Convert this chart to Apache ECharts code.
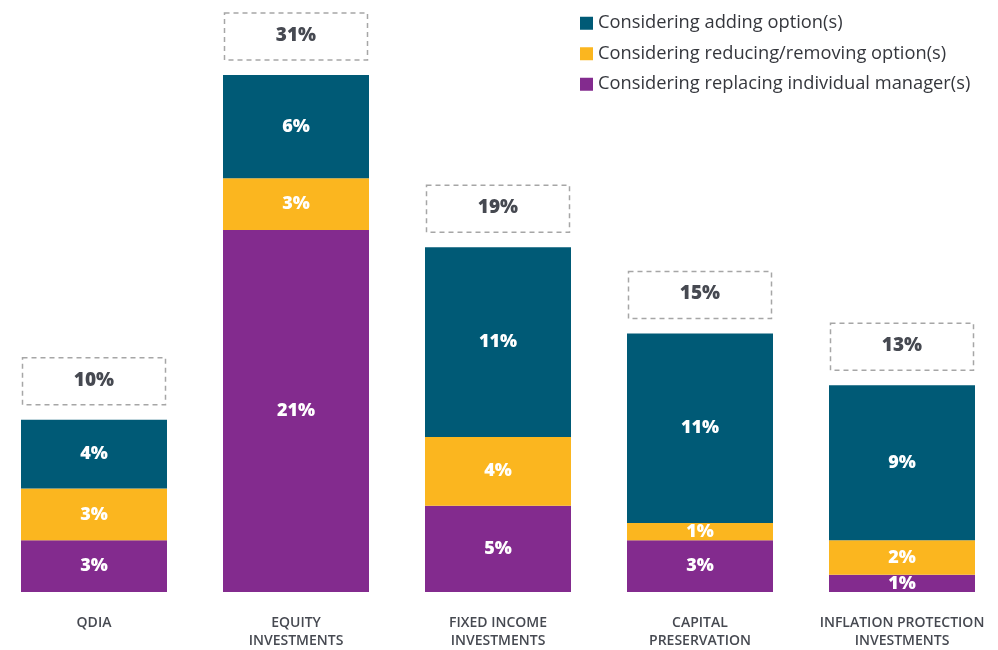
<!DOCTYPE html>
<html>
<head>
<meta charset="utf-8">
<script src="https://cdn.jsdelivr.net/npm/echarts@6/dist/echarts.min.js"></script>
<style>
  html, body { margin: 0; padding: 0; background: #ffffff; }
  #chart { width: 998px; height: 650px; }
</style>
</head>
<body>
<div id="chart"></div>
<script>
// Plan menu changes under consideration, by asset category (percent of plans)
const categories = ['QDIA', 'EQUITY\nINVESTMENTS', 'FIXED INCOME\nINVESTMENTS', 'CAPITAL\nPRESERVATION', 'INFLATION PROTECTION\nINVESTMENTS'];
const replacingManagers = [3, 21, 5, 3, 1];
const reducingRemoving = [3, 3, 4, 1, 2];
const addingOptions = [4, 6, 11, 11, 9];
const totalLabels = ['10%', '31%', '19%', '15%', '13%'];

const seriesNames = [
  'Considering adding option(s)',
  'Considering reducing/removing option(s)',
  'Considering replacing individual manager(s)'
];
const colors = {
  adding: '#005a76',
  reducing: '#fbb61f',
  replacing: '#832b8e'
};

const FONT = '"Open Sans", "Noto Sans", sans-serif';
const textDark = '#464951';

const segmentLabel = {
  show: true,
  position: 'inside',
  color: '#ffffff',
  fontFamily: FONT,
  fontWeight: 800,
  fontSize: 18,
  formatter: p => p.value + '%'
};

const chart = echarts.init(document.getElementById('chart'), null, { renderer: 'canvas' });

chart.setOption({
  animation: false,
  backgroundColor: '#ffffff',
  grid: { left: 94, right: 96, top: 6, bottom: 56, containLabel: false },
  legend: {
    orient: 'vertical',
    left: 575,
    top: 6,
    itemWidth: 13,
    itemHeight: 13,
    itemGap: 6,
    icon: 'rect',
    data: seriesNames,
    textStyle: { fontFamily: FONT, fontSize: 18.3, color: '#35373d', lineHeight: 24.5 },
    selectedMode: false
  },
  xAxis: {
    type: 'category',
    data: categories,
    boundaryGap: false,
    axisLine: { show: false },
    axisTick: { show: false },
    axisLabel: {
      margin: 22,
      interval: 0,
      color: textDark,
      fontFamily: FONT,
      fontWeight: 600,
      fontSize: 14,
      lineHeight: 18
    }
  },
  yAxis: {
    type: 'value',
    min: 0,
    max: 34,
    show: false,
    splitLine: { show: false }
  },
  series: [
    {
      name: seriesNames[2],
      type: 'bar',
      stack: 'total',
      barWidth: 146,
      data: replacingManagers,
      itemStyle: { color: colors.replacing },
      label: segmentLabel
    },
    {
      name: seriesNames[1],
      type: 'bar',
      stack: 'total',
      barWidth: 146,
      data: reducingRemoving,
      itemStyle: { color: colors.reducing },
      label: segmentLabel
    },
    {
      name: seriesNames[0],
      type: 'bar',
      stack: 'total',
      barWidth: 146,
      data: addingOptions,
      itemStyle: { color: colors.adding },
      label: segmentLabel
    },
    {
      // zero-height cap on each stack that carries the dashed total box
      name: 'total',
      type: 'bar',
      stack: 'total',
      barWidth: 146,
      data: categories.map(() => 0),
      itemStyle: { color: 'transparent' },
      label: {
        show: true,
        position: 'top',
        distance: 15,
        formatter: p => totalLabels[p.dataIndex],
        color: textDark,
        fontFamily: FONT,
        fontWeight: 800,
        fontSize: 19,
        width: 143,
        height: 47,
        lineHeight: 49,
        align: 'center',
        borderColor: '#a6a6a6',
        borderWidth: 1.5,
        borderType: [5, 4]
      }
    }
  ]
});
</script>
</body>
</html>
